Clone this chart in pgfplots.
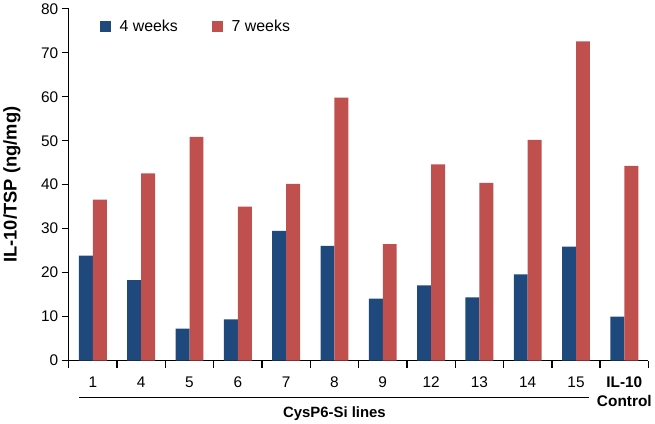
\documentclass[border=0pt]{standalone}
\usepackage{pgfplots}
\pgfplotsset{compat=1.18}
\usepackage{fontspec}
\setmainfont{Liberation Sans}
\definecolor{cblue}{RGB}{31,73,125}
\definecolor{cred}{RGB}{192,80,77}
\begin{document}
\begin{tikzpicture}
\begin{axis}[
  scale only axis, width=581.6bp, height=353bp,
  xmin=-0.5, xmax=11.5, ymin=0, ymax=80,
  ybar=0pt, bar width=14bp,
  every axis plot post/.append style={legend image code/.code={\fill[##1] (0bp,-5.5bp) rectangle (11bp,5.5bp); \path (18bp,0bp);}},
  axis x line*=bottom, axis y line*=left,
  axis line style={-, line width=1.4bp},
  ytick={0,10,...,80},
  xtick={0,...,11},
  xticklabels={1,4,5,6,7,8,9,12,13,14,15,{\bfseries IL-10\\\bfseries Control}},
  minor xtick={-0.5,0.5,...,11.5},
  major x tick style={draw=none},
  tick style={black, line width=1.4bp},
  tick align=outside, major tick length=7bp, minor tick length=7bp,
  tick label style={font=\fontsize{15.5}{19}\selectfont},
  xticklabel style={align=center, yshift=-6bp},
  /pgf/number format/assume math mode=true,
  ylabel={IL-10/TSP (ng/mg)},
  ylabel style={font=\bfseries\fontsize{18.5}{22}\selectfont, at={(axis description cs:0,0.5)}, anchor=center, yshift=57bp},
  legend style={draw=none, fill=none, at={(axis description cs:0.053,0.95)}, anchor=west, inner sep=0pt,
    font=\fontsize{16}{19}\selectfont, /tikz/every even column/.append style={column sep=32bp}},
  legend columns=2,
  clip=false,
]
\addplot[fill=cblue, draw=none] coordinates {(0,23.9) (1,18.3) (2,7.3) (3,9.4) (4,29.5) (5,26.1) (6,14.1) (7,17.1) (8,14.4) (9,19.6) (10,25.9) (11,10.0)};
\addplot[fill=cred, draw=none] coordinates {(0,36.6) (1,42.6) (2,50.9) (3,35.0) (4,40.2) (5,59.8) (6,26.5) (7,44.6) (8,40.4) (9,50.2) (10,72.6) (11,44.3)};
\legend{4 weeks, 7 weeks}
\draw[line width=1.4bp] ([yshift=-37bp]axis cs:-0.29,0) -- ([yshift=-37bp]axis cs:10.26,0);
\node[font=\bfseries\fontsize{15}{18}\selectfont] at ([yshift=-53bp]axis cs:5,0) {CysP6-Si lines};
\end{axis}
\end{tikzpicture}
\end{document}
